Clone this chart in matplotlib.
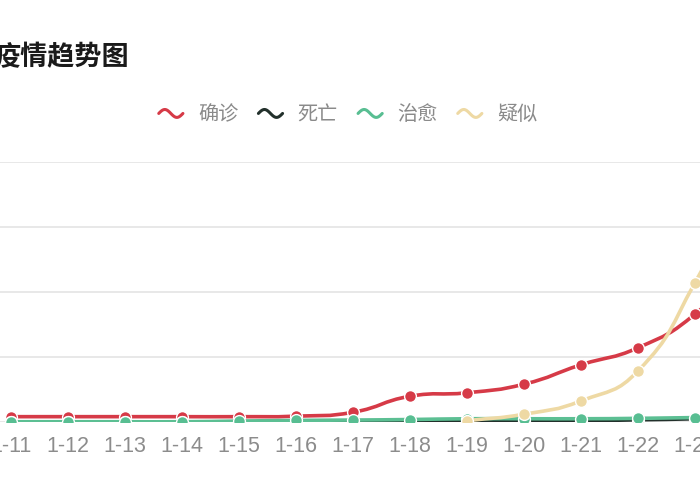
import numpy as np
import matplotlib
matplotlib.use("Agg")
import matplotlib.pyplot as plt
from matplotlib.path import Path
from matplotlib.patches import PathPatch
from matplotlib.lines import Line2D
from matplotlib.legend_handler import HandlerBase

plt.rcParams['font.family'] = ['Noto Sans CJK SC', 'DejaVu Sans']

# ---- data ----
dates = ['1-11', '1-12', '1-13', '1-14', '1-15', '1-16', '1-17',
         '1-18', '1-19', '1-20', '1-21', '1-22', '1-23', '1-24']
confirmed = [41, 41, 41, 41, 41, 45, 75, 198, 225, 291, 440, 571, 830, 1287]
dead = [1, 1, 1, 1, 2, 2, 2, 3, 3, 6, 9, 17, 25, 41]
cured = [2, 2, 2, 2, 7, 12, 15, 19, 25, 25, 25, 28, 34, 38]
suspected = [None, None, None, None, None, None, None, None, 10, 60, 162, 393, 1072, 1965]
series_names = ['确诊', '死亡', '治愈', '疑似']
title = '疫情趋势图'

colors = ['#d63a47', '#22302b', '#58be92', '#eed9a4']
line_colors = ['#d63a47', '#22302b', '#5cbf93', '#eed9a4']

W, H = 700, 500
fig = plt.figure(figsize=(W / 100, H / 100), dpi=100)
ax = fig.add_axes([0, (H - 422) / H, 1, (422 - 162) / H])

x = np.arange(len(dates))
ax.set_xticks(x)
ax.set_xticklabels(dates, fontsize=15.5, color='#8c8c8c', family=['Liberation Sans', 'DejaVu Sans'])
ax.set_yticks([0, 500, 1000, 1500, 2000])
ax.set_xlim(-11 / 57, 12 + 5 / 57)
ax.set_ylim(0, 2000)
ax.grid(axis='y', color='#e6e6e6', lw=1.3)
ax.set_axisbelow(True)
for s in ax.spines.values():
    s.set_visible(False)
ax.tick_params(axis='x', length=0, pad=10)
ax.tick_params(axis='y', length=0, labelleft=False)


def smooth_path(xs, ys, smooth=0.5):
    pts = ax.transData.transform(np.column_stack([xs, ys]))
    n = len(pts)
    cps = []
    for i in range(n):
        p = pts[i]
        prev = pts[i - 1] if i > 0 else p
        nxt = pts[i + 1] if i < n - 1 else p
        v = (nxt - prev) * smooth
        d0 = np.hypot(*(p - prev))
        d1 = np.hypot(*(nxt - p))
        s = d0 + d1
        if s > 0:
            d0 /= s
            d1 /= s
        cps.append((p - v * d0, p + v * d1))
    verts = [pts[0]]
    codes = [Path.MOVETO]
    for i in range(n - 1):
        verts += [cps[i][1], cps[i + 1][0], pts[i + 1]]
        codes += [Path.CURVE4] * 3
    vd = ax.transData.inverted().transform(np.array(verts))
    return Path(vd, codes)


all_series = [confirmed, dead, cured, suspected]
for k, ser in enumerate(all_series):
    xs = np.array([xi for xi, v in zip(x, ser) if v is not None], dtype=float)
    ys = np.array([v for v in ser if v is not None], dtype=float)
    path = smooth_path(xs, ys)
    ax.add_patch(PathPatch(path, fill=False, edgecolor=line_colors[k], lw=2.6,
                           capstyle='round', joinstyle='round', zorder=3 + 2 * k))
    ax.plot(xs, ys, ls='none', marker='o', ms=8.5, mfc=colors[k], mec='white',
            mew=1.0, zorder=4 + 2 * k, clip_on=True)

# title
fig.text(129 / W, 1 - 57 / H, title, ha='right', va='center', fontsize=19.5,
         color='#1a1a1a', fontweight='bold')


class WaveHandler(HandlerBase):
    def create_artists(self, legend, orig_handle, xdescent, ydescent, width,
                       height, fontsize, trans):
        t = np.linspace(0, 1, 40)
        xx = -xdescent + width * t
        yy = -ydescent + height / 2 + height * 0.28 * np.sin(2 * np.pi * t)
        ln = Line2D(xx, yy, color=orig_handle.get_color(), lw=2.2,
                    solid_capstyle='round', transform=trans)
        return [ln]


handles = [Line2D([], [], color=c) for c in colors]
leg = fig.legend(handles, series_names, loc='center', ncol=4,
                 bbox_to_anchor=(348 / W, 1 - 115 / H), frameon=False,
                 fontsize=14.5, labelcolor='#8a8a8a', handlelength=1.2,
                 handletextpad=0.75, columnspacing=1.0,
                 handler_map={Line2D: WaveHandler()})

fig.savefig('out.png', dpi=100)
